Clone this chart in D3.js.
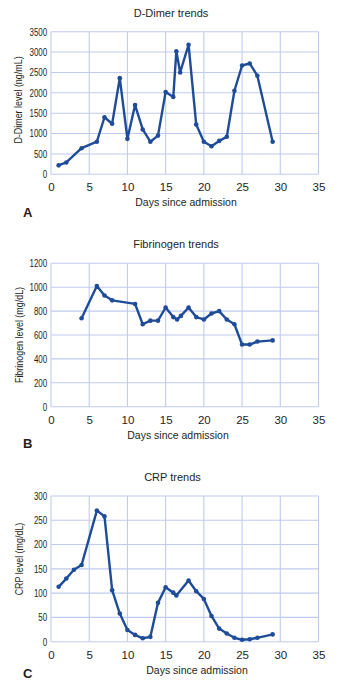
<!DOCTYPE html>
<html><head><meta charset="utf-8">
<script src="https://cdn.jsdelivr.net/npm/d3@7"></script>
<style>
html,body{margin:0;padding:0;background:#fff;}
svg{display:block;}
text{font-family:"Liberation Sans",Arial,sans-serif;fill:#1e1e1e;}
</style></head>
<body>
<script>
// ---- data ----
const xTicks = [0,5,10,15,20,25,30,35];

const dimerTitle = "D-Dimer trends";
const dimerYLabel = "D-Dimer level (ng/mL)";
const dimerDays   = [1,2,4,6,7,8,9,10,11,12,13,14,15,16,16.4,16.9,18,19,20,21,22,23,24,25,26,27,29];
const dimerValues = [220,290,640,800,1400,1240,2360,870,1700,1100,800,950,2020,1900,3020,2500,3180,1220,800,690,820,920,2050,2670,2720,2420,800];
const dimerYTicks = [0,500,1000,1500,2000,2500,3000,3500];

const fibTitle = "Fibrinogen trends";
const fibYLabel = "Fibrinogen level (mg/dL)";
const fibDays   = [4,6,7,8,11,12,13,14,15,16,16.5,17,18,19,20,21,22,23,24,25,26,27,29];
const fibValues = [740,1010,930,890,860,690,720,720,830,750,730,760,830,750,730,780,800,730,690,520,520,545,555];
const fibYTicks = [0,200,400,600,800,1000,1200];

const crpTitle = "CRP trends";
const crpYLabel = "CRP level  (mg/dL)";
const crpDays   = [1,2,3,4,6,7,8,9,10,11,12,13,14,15,16,16.4,18,19,20,21,22,23,24,25,26,27,29];
const crpValues = [113,130,148,158,270,258,106,58,24,14,7,10,80,112,101,95,126,104,88,53,27,17,8,4,5,8,15];
const crpYTicks = [0,50,100,150,200,250,300];

const xLabel = "Days since admission";
const panelLetters = ["A","B","C"];

// ---- layout ----
const W = 340, H = 684;
const svg = d3.select("body").append("svg").attr("width", W).attr("height", H);

const panels = [
  {title: dimerTitle, yLabel: dimerYLabel, days: dimerDays, vals: dimerValues, yTicks: dimerYTicks,
   top: 31.7, bottom: 174.3, titleX: 171, xTitleX: 186, yLabelY: 100, yLabelX: 19, letter: panelLetters[0], letterY: 217},
  {title: fibTitle, yLabel: fibYLabel, days: fibDays, vals: fibValues, yTicks: fibYTicks,
   top: 263.3, bottom: 406.7, titleX: 176, xTitleX: 178, yLabelY: 335, yLabelX: 20, letter: panelLetters[1], letterY: 448},
  {title: crpTitle, yLabel: crpYLabel, days: crpDays, vals: crpValues, yTicks: crpYTicks,
   top: 496, bottom: 641.7, titleX: 172.5, xTitleX: 197, yLabelY: 559, yLabelX: 20, letter: panelLetters[2], letterY: 678}
];

const left = 51, right = 318.5;
const gridColor = "#c0cbf0";
const lineColor = "#1f4c98";

panels.forEach(p => {
  const x = d3.scaleLinear().domain([0,35]).range([left,right]);
  const y = d3.scaleLinear().domain([0, d3.max(p.yTicks)]).range([p.bottom, p.top]);
  const g = svg.append("g");

  // grid
  g.selectAll("line.v").data(xTicks).join("line")
    .attr("x1", d => x(d)).attr("x2", d => x(d))
    .attr("y1", p.top).attr("y2", p.bottom)
    .attr("stroke", gridColor).attr("stroke-width", 1.1);
  g.selectAll("line.h").data(p.yTicks).join("line")
    .attr("x1", left).attr("x2", right)
    .attr("y1", d => y(d)).attr("y2", d => y(d))
    .attr("stroke", gridColor).attr("stroke-width", 1.1);

  const xAxis = g.append("g").attr("transform", `translate(0,${p.bottom})`)
    .call(d3.axisBottom(x).tickValues(xTicks).tickFormat(d3.format("d")).tickSize(0).tickPadding(9));
  xAxis.select(".domain").remove();
  xAxis.selectAll("text").attr("font-size", 11.5).attr("fill", "#1e1e1e")
    .style("font-family", '"Liberation Sans",Arial,sans-serif');

  const yAxis = g.append("g").attr("transform", `translate(${left},0)`)
    .call(d3.axisLeft(y).tickValues(p.yTicks).tickFormat(d3.format("d")).tickSize(0).tickPadding(5));
  yAxis.select(".domain").remove();
  yAxis.selectAll("text").attr("font-size", 10.5).attr("fill", "#1e1e1e")
    .attr("transform", "scale(0.76,1)")
    .style("font-family", '"Liberation Sans",Arial,sans-serif');

  // titles
  g.append("text").attr("x", p.titleX).attr("y", p.top - 15)
    .attr("text-anchor", "middle").attr("font-size", 11).text(p.title);
  g.append("text").attr("x", p.xTitleX).attr("y", p.bottom + 32)
    .attr("text-anchor", "middle").attr("font-size", 10.5).text(xLabel);
  g.append("text").attr("transform", `translate(${p.yLabelX},${p.yLabelY}) rotate(-90) scale(0.85,1)`)
    .attr("text-anchor", "middle").attr("dominant-baseline", "middle")
    .attr("font-size", 10.5).text(p.yLabel);
  g.append("text").attr("x", 23).attr("y", p.letterY)
    .attr("font-size", 13).attr("font-weight", "bold")
    .attr("fill", "#111").text(p.letter);

  // line
  const pts = p.days.map((d,i) => [d, p.vals[i]]);
  const line = d3.line().x(d => x(d[0])).y(d => y(d[1]));
  g.append("path").datum(pts).attr("d", line)
    .attr("fill", "none").attr("stroke", lineColor).attr("stroke-width", 2.4)
    .attr("stroke-linejoin", "round").attr("stroke-linecap", "round");
  g.selectAll("circle").data(pts).join("circle")
    .attr("cx", d => x(d[0])).attr("cy", d => y(d[1])).attr("r", 2.3)
    .attr("fill", lineColor);
});
</script>
</body></html>
